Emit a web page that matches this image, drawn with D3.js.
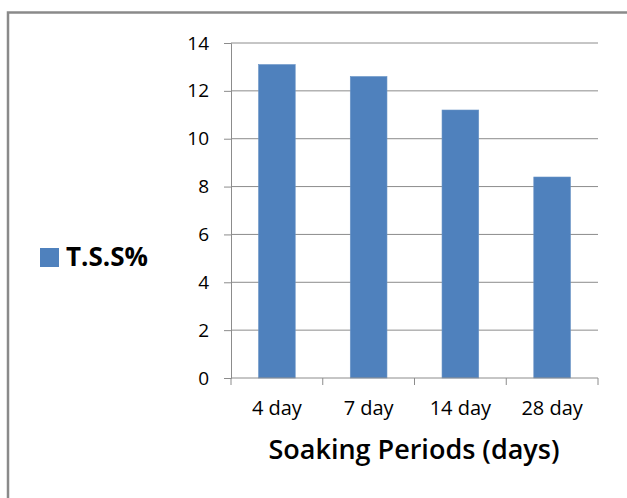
<!DOCTYPE html>
<html><head><meta charset="utf-8">
<script src="https://cdn.jsdelivr.net/npm/d3@7"></script>
<style>body{margin:0;background:#fff}svg{display:block}</style>
</head><body>
<script>
const categories = ["4 day", "7 day", "14 day", "28 day"];
const values = [13.1, 12.6, 11.2, 8.4];
const yTicks = [0, 2, 4, 6, 8, 10, 12, 14];
const seriesName = "T.S.S%";
const xTitle = "Soaking Periods (days)";

const W = 627, H = 498;
const font = "'Open Sans', Lato, sans-serif";
const svg = d3.select("body").append("svg").attr("width", W).attr("height", H);

// outer frame
svg.append("path").attr("d", `M8,${H+5}V12.5H${W+5}`).attr("fill", "none")
  .attr("stroke", "#8a8a8a").attr("stroke-width", 2.5);

const pL = 231, pR = 598, pT = 43, pB = 378;
const x = d3.scaleBand().domain(categories).range([pL, pR]).paddingInner(0.6).paddingOuter(0.3);
const y = d3.scaleLinear().domain([0, 14]).range([pB, pT]);

// gridlines
svg.append("g").selectAll("line").data(yTicks.filter(d => d > 0)).join("line")
  .attr("x1", pL).attr("x2", pR).attr("y1", d => y(d)).attr("y2", d => y(d))
  .attr("stroke", "#8c8c8c").attr("stroke-width", 1);

// y axis
const yAxis = svg.append("g").attr("transform", `translate(${pL},0)`)
  .call(d3.axisLeft(y).tickValues(yTicks).tickSize(7).tickPadding(15).tickFormat(d3.format("d")));
yAxis.select(".domain").attr("stroke", "#8c8c8c");
yAxis.selectAll(".tick line").attr("stroke", "#8c8c8c");
yAxis.selectAll("text").attr("font-family", font).attr("font-size", 19).attr("fill", "#000");

// bars
svg.append("g").selectAll("rect").data(values).join("rect")
  .attr("x", (d, i) => x(categories[i])).attr("width", x.bandwidth())
  .attr("y", d => y(d)).attr("height", d => y(0) - y(d))
  .attr("fill", "#4f81bd").attr("stroke", "#6a94c6").attr("stroke-width", 0.6);

// x axis
const xb = d3.scaleLinear().domain([0, categories.length]).range([pL, pR]);
const xAxisG = svg.append("g").attr("transform", `translate(0,${pB})`);
xAxisG.append("line").attr("x1", pL).attr("x2", pR).attr("stroke", "#8c8c8c");
xAxisG.selectAll(".tk").data(d3.range(categories.length + 1)).join("line")
  .attr("x1", d => xb(d)).attr("x2", d => xb(d)).attr("y1", 0).attr("y2", 7).attr("stroke", "#8c8c8c");
xAxisG.selectAll("text").data(categories).join("text")
  .attr("x", d => x(d) + x.bandwidth() / 2).attr("y", 37).attr("text-anchor", "middle")
  .attr("font-family", font).attr("font-size", 20).attr("fill", "#000").text(d => d);

// x title
svg.append("text").attr("x", 414).attr("y", 459).attr("text-anchor", "middle")
  .attr("font-family", font).attr("font-size", 27).attr("font-weight", 600).attr("fill", "#000").text(xTitle);

// legend
svg.append("rect").attr("x", 40).attr("y", 248).attr("width", 19).attr("height", 19).attr("fill", "#4f81bd");
svg.append("text").attr("x", 66).attr("y", 266).attr("font-family", font).attr("font-size", 26)
  .attr("font-weight", 700).attr("fill", "#000").text(seriesName);
</script>
</body></html>
